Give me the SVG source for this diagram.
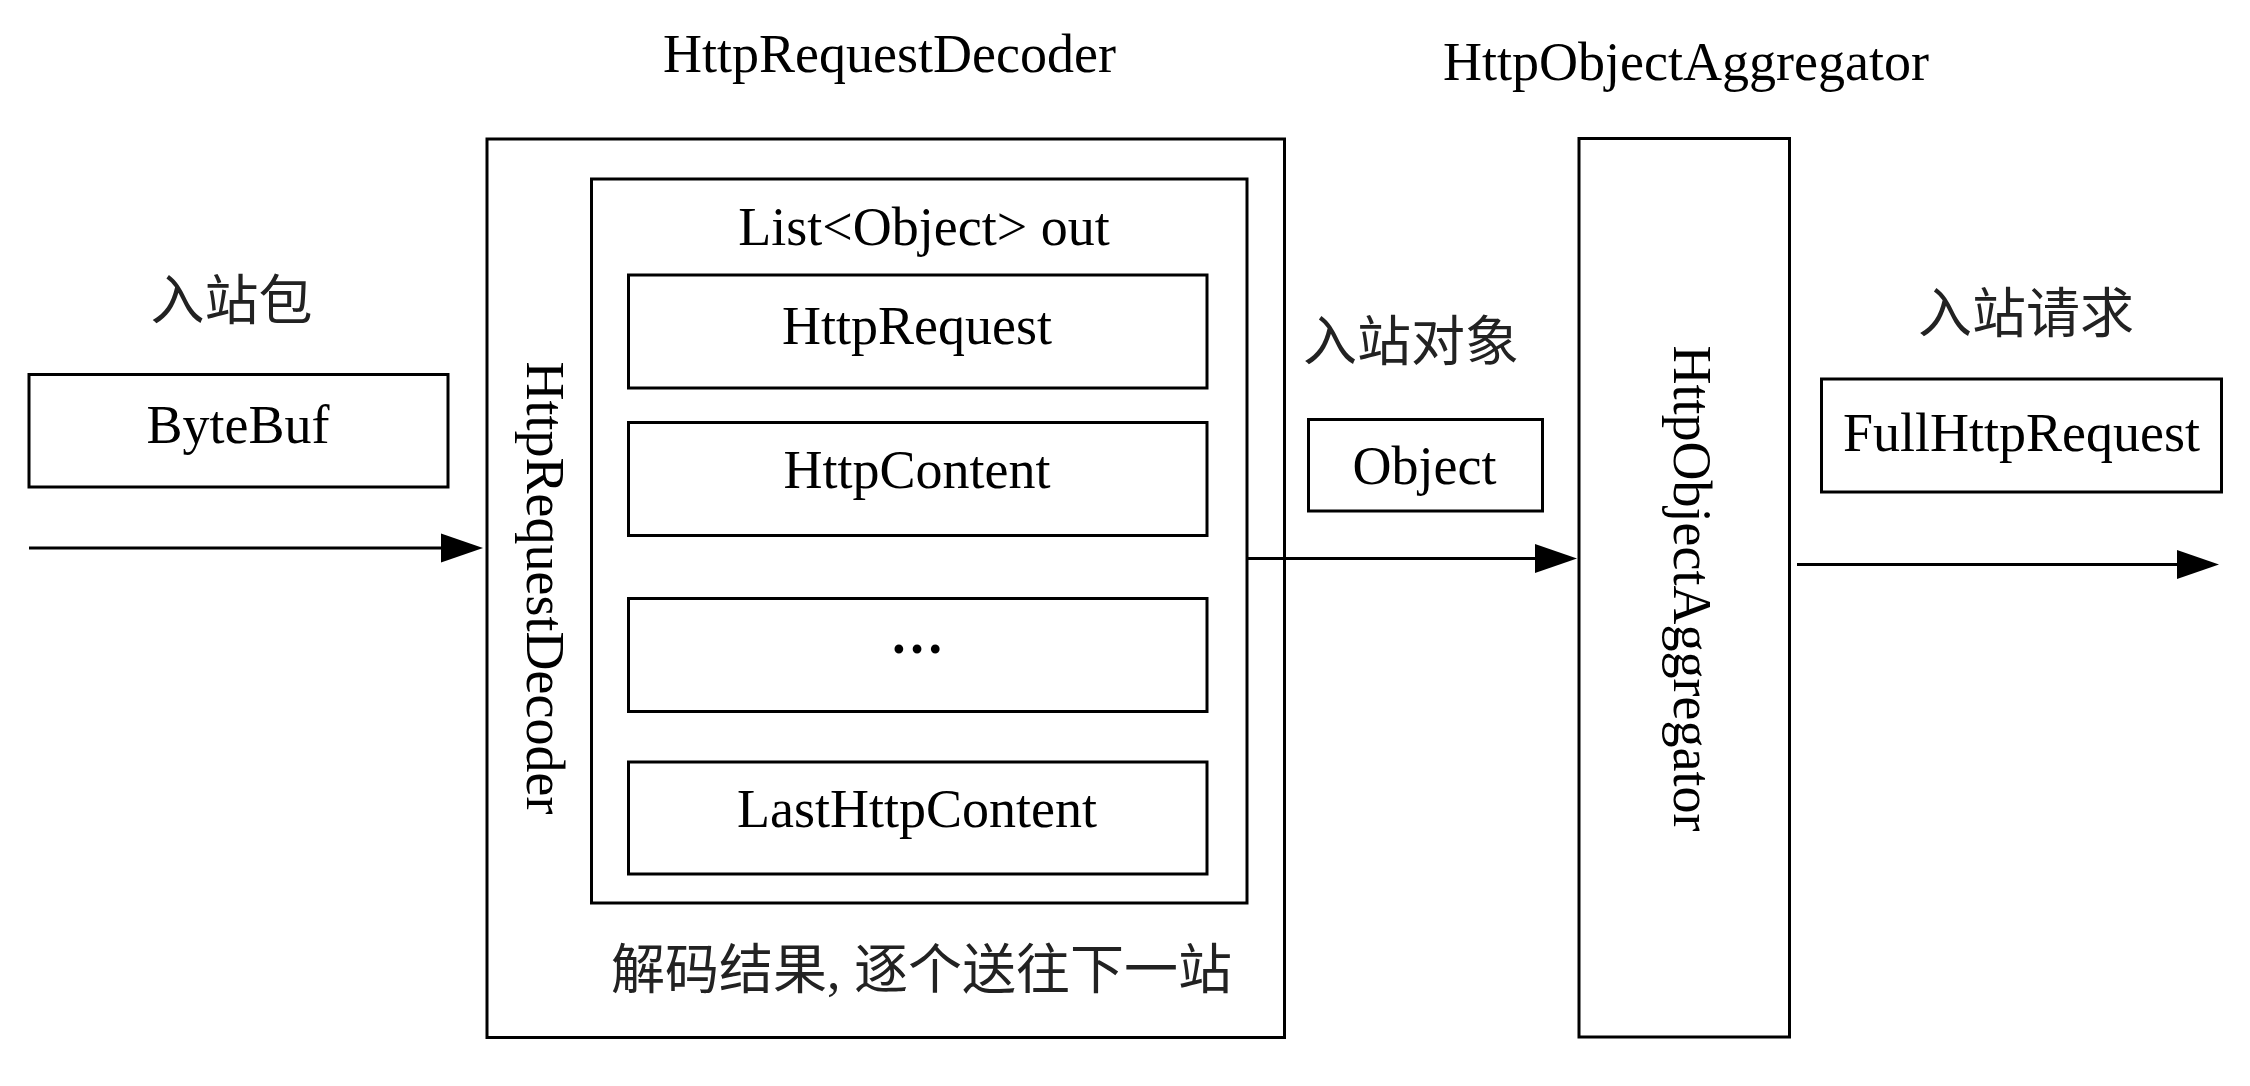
<svg xmlns="http://www.w3.org/2000/svg" width="2250" height="1086" viewBox="0 0 2250 1086">
  <style>
    .box { fill: none; stroke: #000; stroke-width: 3; }
    .lbl { font-family: "Liberation Serif", "Times New Roman", serif; font-size: 54px; fill: #000; text-anchor: middle; }
    .cjk { font-family: "Liberation Serif", "Noto Sans CJK SC", sans-serif; font-size: 54px; fill: #222; text-anchor: middle; }
    .edge { fill: none; stroke: #000; stroke-width: 2.8; }
  </style>
  <defs>
    <marker id="arrow" markerUnits="userSpaceOnUse" markerWidth="42" markerHeight="29" refX="0" refY="14.5" orient="auto" overflow="visible">
      <path d="M0,0 L42,14.5 L0,29 Z" fill="#000"/>
    </marker>
  </defs>
  <rect width="2250" height="1086" fill="#fff"/>

  <g id="label-inbound-packet">
    <text class="cjk" x="231.5" y="320">入站包</text>
  </g>

  <g id="node-bytebuf">
    <rect class="box" x="29" y="374.5" width="419" height="112.5"/>
    <text class="lbl" x="238" y="442.5">ByteBuf</text>
  </g>

  <g id="node-http-request-decoder">
    <text class="lbl" x="889.5" y="72">HttpRequestDecoder</text>
    <rect class="box" x="487" y="139" width="797.5" height="898.5"/>
    <text class="lbl" transform="translate(527,588) rotate(90)" x="0" y="0">HttpRequestDecoder</text>
    <text class="cjk" x="611" y="989" style="text-anchor:start">解码结果, 逐个送往下一站</text>
  </g>

  <g id="node-list-out">
    <rect class="box" x="591.5" y="179" width="655.5" height="724"/>
    <text class="lbl" x="924" y="245">List&lt;Object&gt; out</text>
  </g>

  <g id="node-http-request">
    <rect class="box" x="628.5" y="275" width="578.5" height="113"/>
    <text class="lbl" x="917" y="343.5">HttpRequest</text>
  </g>

  <g id="node-http-content">
    <rect class="box" x="628.5" y="422.5" width="578.5" height="113"/>
    <text class="lbl" x="917" y="488">HttpContent</text>
  </g>

  <g id="node-ellipsis">
    <rect class="box" x="628.5" y="598.5" width="578.5" height="113"/>
    <text class="lbl" x="917" y="653" style="font-weight:bold">…</text>
  </g>

  <g id="node-last-http-content">
    <rect class="box" x="628.5" y="762" width="578.5" height="112"/>
    <text class="lbl" x="917" y="827">LastHttpContent</text>
  </g>

  <g id="label-inbound-object">
    <text class="cjk" x="1411" y="361">入站对象</text>
  </g>

  <g id="node-object">
    <rect class="box" x="1308.5" y="419.5" width="234" height="91.5"/>
    <text class="lbl" x="1424.5" y="484">Object</text>
  </g>

  <g id="node-http-object-aggregator">
    <text class="lbl" x="1686" y="80">HttpObjectAggregator</text>
    <rect class="box" x="1579" y="138.5" width="210.5" height="898.5"/>
    <text class="lbl" transform="translate(1674,588.5) rotate(90)" x="0" y="0">HttpObjectAggregator</text>
  </g>

  <g id="label-inbound-request">
    <text class="cjk" x="2026" y="333">入站请求</text>
  </g>

  <g id="node-full-http-request">
    <rect class="box" x="1821.5" y="379" width="400" height="113"/>
    <text class="lbl" x="2021.5" y="451">FullHttpRequest</text>
  </g>

  <g id="connectors">
    <line class="edge" x1="29" y1="548" x2="441" y2="548" marker-end="url(#arrow)"/>
    <line class="edge" x1="1247" y1="558.5" x2="1535" y2="558.5" marker-end="url(#arrow)"/>
    <line class="edge" x1="1797" y1="564.5" x2="2177" y2="564.5" marker-end="url(#arrow)"/>
  </g>
</svg>
